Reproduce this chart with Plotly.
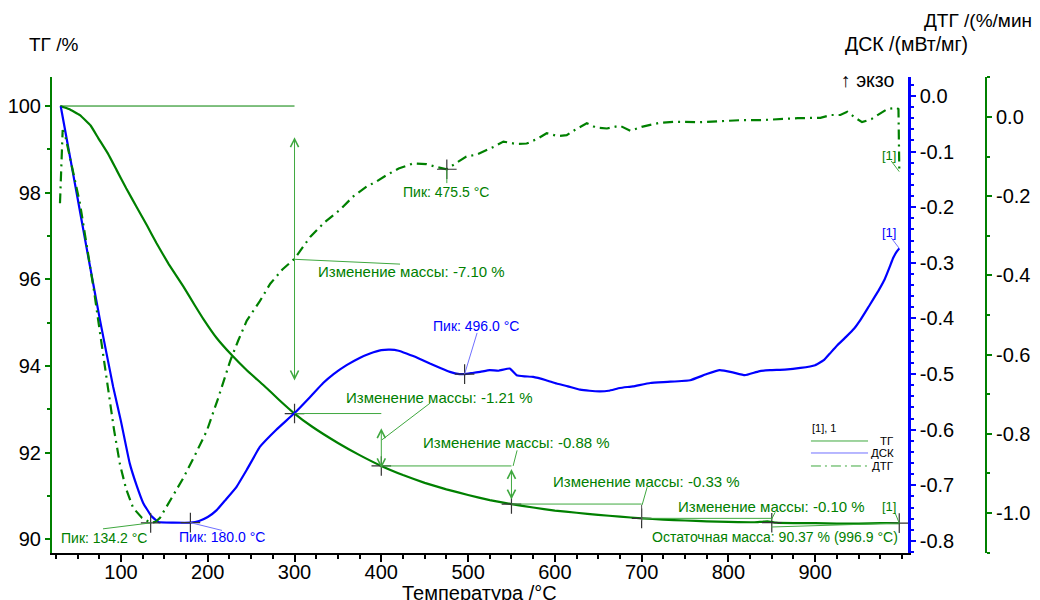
import plotly.graph_objects as go

# ---------------- data ----------------
tg_temp = [30, 40, 52.7, 65, 73.8, 85, 95, 106, 118, 130, 141, 155, 172, 185, 195, 210, 227.6, 245, 264, 282,
           300, 320, 350, 375, 400, 425, 450, 475, 500, 525, 550, 575, 600, 625, 650, 675, 700, 725, 750, 775,
           800, 830, 845, 855, 875, 900, 925, 950, 975, 996.9]
tg_val = [100.0, 99.93, 99.79, 99.55, 99.26, 98.9, 98.52, 98.1, 97.67, 97.24, 96.83, 96.35, 95.83, 95.4, 95.08,
          94.65, 94.25, 93.9, 93.56, 93.22, 92.9, 92.6, 92.22, 91.94, 91.69, 91.48, 91.3, 91.15, 91.02, 90.9,
          90.81, 90.73, 90.66, 90.61, 90.56, 90.52, 90.48, 90.45, 90.43, 90.41, 90.4, 90.39, 90.41, 90.38, 90.37,
          90.37, 90.36, 90.36, 90.37, 90.37]

dsc_temp = [30.5, 40, 50, 60, 75.8, 91, 100, 110, 118, 125.7, 135, 143, 160, 180, 190, 200, 210, 220, 233, 245,
            260, 279, 300, 318, 333, 345, 360, 375, 387, 400, 410, 420, 429, 442, 456, 468, 479, 490, 496, 505,
            514, 525, 535, 548, 556, 565, 575, 590, 602, 615, 629, 640, 652, 662, 675, 690, 710, 730, 756, 775,
            790, 805, 819, 835, 848, 865, 883, 900, 910, 917, 925, 935, 945, 952, 962, 973, 980, 986, 990, 994,
            996.9]
dsc_val = [-0.018, -0.099, -0.184, -0.27, -0.403, -0.523, -0.585, -0.66, -0.70, -0.732, -0.755, -0.766, -0.767,
           -0.767, -0.764, -0.757, -0.745, -0.727, -0.703, -0.672, -0.631, -0.600, -0.570, -0.541, -0.516, -0.500,
           -0.484, -0.471, -0.463, -0.457, -0.456, -0.458, -0.463, -0.471, -0.481, -0.489, -0.496, -0.500, -0.500,
           -0.498, -0.496, -0.493, -0.494, -0.490, -0.502, -0.504, -0.505, -0.511, -0.517, -0.522, -0.528, -0.530,
           -0.531, -0.530, -0.525, -0.522, -0.516, -0.514, -0.511, -0.500, -0.493, -0.497, -0.502, -0.495, -0.493,
           -0.492, -0.489, -0.484, -0.475, -0.463, -0.449, -0.434, -0.418, -0.403, -0.378, -0.350, -0.330, -0.307,
           -0.291, -0.280, -0.274]

dtg_temp = [29.7, 31, 32.8, 36, 41, 47, 52.7, 58, 64, 69, 73.8, 80, 85, 92, 98.8, 106, 114, 124, 134.2, 140, 145,
            155, 165, 172, 185, 199, 212, 226, 235, 245, 260, 272, 286, 300, 318, 335, 352, 368, 383, 395, 406,
            420, 437, 452, 465, 475.5, 485, 498, 510, 521.6, 530, 540.7, 555, 567.6, 580, 590.6, 603, 613.7, 625,
            636.8, 648, 660, 675, 687, 700, 720, 740, 767, 790, 815, 837, 860, 880, 906, 918, 929, 937, 945, 954,
            965, 975, 983, 994, 996, 996.5, 997]
dtg_val = [-0.218, -0.12, -0.033, -0.05, -0.10, -0.16, -0.218, -0.29, -0.37, -0.44, -0.514, -0.61, -0.683, -0.79,
           -0.877, -0.94, -0.987, -1.012, -1.025, -1.022, -1.012, -0.975, -0.938, -0.911, -0.855, -0.792, -0.71,
           -0.615, -0.565, -0.514, -0.465, -0.421, -0.385, -0.358, -0.303, -0.265, -0.235, -0.20, -0.176, -0.162,
           -0.147, -0.13, -0.117, -0.119, -0.127, -0.132, -0.118, -0.10, -0.095, -0.084, -0.075, -0.062, -0.068,
           -0.067, -0.055, -0.041, -0.048, -0.046, -0.03, -0.016, -0.027, -0.029, -0.022, -0.035, -0.025, -0.015,
           -0.012, -0.013, -0.01, -0.008, -0.008, -0.005, -0.003, -0.002, 0.005, 0.005, 0.013, 0.0, -0.013,
           -0.005, 0.008, 0.02, 0.023, 0.02, -0.06, -0.138]

# mass-change steps (TG)
step_temp = [300, 400, 550, 700, 850]
step_tg = [92.9, 91.69, 90.81, 90.48, 90.38]
step_text = ["Изменение массы: -7.10 %", "Изменение массы: -1.21 %", "Изменение массы: -0.88 %",
             "Изменение массы: -0.33 %", "Изменение массы: -0.10 %"]
residual_temp, residual_tg = 996.9, 90.37
residual_text = "Остаточная масса: 90.37 % (996.9 °C)"

# peaks
dtg_peak_temp = [134.2, 475.5]
dtg_peak_val = [-1.025, -0.132]
dsc_peak_temp = [180.0, 496.0]
dsc_peak_val = [-0.767, -0.500]

x_ticks = [100, 200, 300, 400, 500, 600, 700, 800, 900]
tg_ticks = [90, 92, 94, 96, 98, 100]
dsc_ticks = [0.0, -0.1, -0.2, -0.3, -0.4, -0.5, -0.6, -0.7, -0.8]
dtg_ticks = [0.0, -0.2, -0.4, -0.6, -0.8, -1.0]

# ---------------- style ----------------
FONT = "Liberation Sans, Arial, sans-serif"
GREEN = "#008000"
LGREEN = "#3fa83f"
BLUE = "#0000ff"
LBLUE = "#7070ff"

fig = go.Figure()

fig.add_trace(go.Scatter(x=tg_temp, y=tg_val, mode="lines", line=dict(color=GREEN, width=2.2, shape="spline",
                                                                          smoothing=0.3), yaxis="y"))
fig.add_trace(go.Scatter(x=dsc_temp, y=dsc_val, mode="lines", line=dict(color=BLUE, width=2.2, shape="spline",
                                                                           smoothing=0.3), yaxis="y2"))
fig.add_trace(go.Scatter(x=dtg_temp, y=dtg_val, mode="lines",
                         line=dict(color=GREEN, width=2.2, dash="10px,5px,2px,5px"), yaxis="y3"))

cross = dict(symbol="cross-thin", size=14, line=dict(color="#333333", width=1.2))
fig.add_trace(go.Scatter(x=step_temp + [residual_temp], y=step_tg + [residual_tg], mode="markers",
                         marker=cross, yaxis="y"))
fig.add_trace(go.Scatter(x=dtg_peak_temp, y=dtg_peak_val, mode="markers", marker=cross, yaxis="y3"))
fig.add_trace(go.Scatter(x=dsc_peak_temp, y=dsc_peak_val, mode="markers", marker=cross, yaxis="y2"))

shapes = []
annotations = []


def line(x0, y0, x1, y1, yref="y", color=LGREEN, width=1, xref="x", dash="solid"):
    shapes.append(dict(type="line", x0=x0, y0=y0, x1=x1, y1=y1, xref=xref, yref=yref,
                       line=dict(color=color, width=width, dash=dash)))


def text(x, y, s, color=GREEN, size=15, yref="y", xanchor="center", xref="x", yanchor="middle"):
    annotations.append(dict(x=x, y=y, text=s, xref=xref, yref=yref, showarrow=False, xanchor=xanchor,
                            yanchor=yanchor, font=dict(family=FONT, size=size, color=color)))


def darrow(x, y0, y1):
    annotations.append(dict(x=x, y=y1, ax=x, ay=y0, xref="x", yref="y", axref="x", ayref="y", text="",
                            showarrow=True, arrowside="end+start", arrowhead=5, arrowsize=1.6,
                            arrowwidth=1, arrowcolor=LGREEN, standoff=0, startstandoff=0))


# mass change construction lines
line(30, 100, 300, 100, color=GREEN)
line(300, 92.9, 400, 92.9)
line(400, 91.69, 550, 91.69)
line(550, 90.81, 700, 90.81)
line(700, 90.48, 850, 90.48)
darrow(300, 93.63, 99.28)
darrow(400, 91.6, 92.56)
darrow(550, 90.88, 91.62)
line(700, 90.42, 700, 90.79, color="#555555")

# leader lines + labels
line(300.6, 96.46, 421.6, 96.35)
text(434.9, 96.19, step_text[0])
line(400.5, 92.29, 456.2, 93.14)
text(467.1, 93.28, step_text[1])
line(551.9, 91.69, 556.5, 92.05)
text(555.3, 92.22, step_text[2])
line(700.6, 90.79, 706.4, 91.2)
text(705.2, 91.34, step_text[3])
line(849.3, 90.44, 853.9, 90.62)
text(849.3, 90.76, step_text[4])
line(849.3, 90.28, 996.9, 90.37)
text(853.9, 90.05, residual_text, size=14)
line(992.2, 90.6, 996.9, 90.37)
text(985.3, 90.76, "[1]", size=13)

line(987.6, -0.255, 996.9, -0.274, yref="y2", color=LBLUE)
text(985.3, -0.245, "[1]", color=BLUE, yref="y2", size=13)
line(987.6, -0.111, 996.9, -0.138, yref="y3")
text(985.3, -0.096, "[1]", yref="y3", size=13)

line(79.3, -1.04, 134.2, -1.025, yref="y3")
text(80.4, -1.063, "Пик: 134.2 °C", yref="y3", size=14)
line(180, -0.767, 216.4, -0.781, yref="y2", color=LBLUE)
text(216.4, -0.793, "Пик: 180.0 °C", color=BLUE, yref="y2", size=14)
line(475.5, -0.132, 475.5, -0.167, yref="y3")
text(474.6, -0.19, "Пик: 475.5 °C", yref="y3", size=14)
line(496, -0.5, 510.4, -0.426, yref="y2", color=LBLUE)
text(509.2, -0.414, "Пик: 496.0 °C", color=BLUE, yref="y2", size=14)

# legend (drawn)
text(0.8116, 0.2626, "[1], 1", color="black", size=11, xref="paper", yref="paper", xanchor="left")
leg = [("ТГ", LGREEN, "solid", 0.2353), ("ДСК", LBLUE, "solid", 0.2101), ("ДТГ", LGREEN, "10px,4px,2px,4px", 0.1828)]
for name, col, dsh, yy in leg:
    line(0.8126, yy, 0.8737, yy, xref="paper", yref="paper", color=col, dash=dsh)
    text(0.9036, yy, name, color="black", size=11.5, xref="paper", yref="paper", xanchor="right")

# axis titles
text(-0.0268, 1.069, "ТГ /%", color="black", size=19, xref="paper", yref="paper", xanchor="left")
text(0.8469, 1.069, "ДСК /(мВт/мг)", color="black", size=19.5, xref="paper", yref="paper", xanchor="left")
text(0.9315, 1.1197, "ДТГ /(%/мин)", color="black", size=19, xref="paper", yref="paper", xanchor="left")
text(0.9047, 0.9937, "↑ экзо", color="black", size=19.5, xref="paper", yref="paper", xanchor="right")
text(0.4582, -0.084, "Температура /°C", color="black", size=20, xref="paper", yref="paper")

tickfont = dict(family=FONT, size=20, color="black")

fig.update_layout(
    width=1040, height=600,
    margin=dict(l=44, r=62, t=69, b=55, autoexpand=False),
    paper_bgcolor="white", plot_bgcolor="white",
    showlegend=False,
    shapes=shapes, annotations=annotations,
    xaxis=dict(domain=[0, 0.9165], range=[20.5, 1007], tickvals=x_ticks, ticks="outside", ticklen=7,
               tickcolor="black", tickwidth=1.5, linecolor="black", linewidth=2, showline=True,
               showgrid=False, zeroline=False, tickfont=tickfont, automargin=False, ticklabelstandoff=-7,
               minor=dict(dtick=25, tick0=0, ticks="outside", ticklen=4, tickcolor="black", showgrid=False)),
    yaxis=dict(range=[89.68, 100.67], tickvals=tg_ticks, ticktext=[str(v) for v in tg_ticks], ticks="outside",
               ticklen=5, tickcolor=GREEN, tickwidth=1.5, linecolor=GREEN, linewidth=2, showline=True,
               showgrid=False, zeroline=False, tickfont=tickfont, automargin=False,
               minor=dict(dtick=1, tick0=0, ticks="outside", ticklen=3, tickcolor=GREEN, showgrid=False)),
    yaxis2=dict(range=[-0.8216, 0.034], overlaying="y", side="right", anchor="x", tickvals=dsc_ticks,
                ticktext=[f"{v:.1f}" for v in dsc_ticks], ticks="outside", ticklen=5,
                tickcolor=BLUE, tickwidth=1.5, linecolor=BLUE, linewidth=2.5, showline=True, showgrid=False,
                zeroline=False, tickfont=tickfont, automargin=False,
                minor=dict(dtick=0.02, tick0=0, ticks="outside", ticklen=3, tickcolor=BLUE, showgrid=False)),
    yaxis3=dict(range=[-1.101, 0.101], overlaying="y", side="right", anchor="free", position=1.0,
                tickvals=dtg_ticks, ticktext=[f"{v:.1f}" for v in dtg_ticks], ticks="outside", ticklen=5,
                tickcolor=GREEN, tickwidth=1.5, linecolor=GREEN, linewidth=2, showline=True, showgrid=False,
                zeroline=False, tickfont=tickfont, automargin=False,
                minor=dict(dtick=0.1, tick0=0, ticks="outside", ticklen=3, tickcolor=GREEN, showgrid=False)),
)

fig.write_html("out.html")
